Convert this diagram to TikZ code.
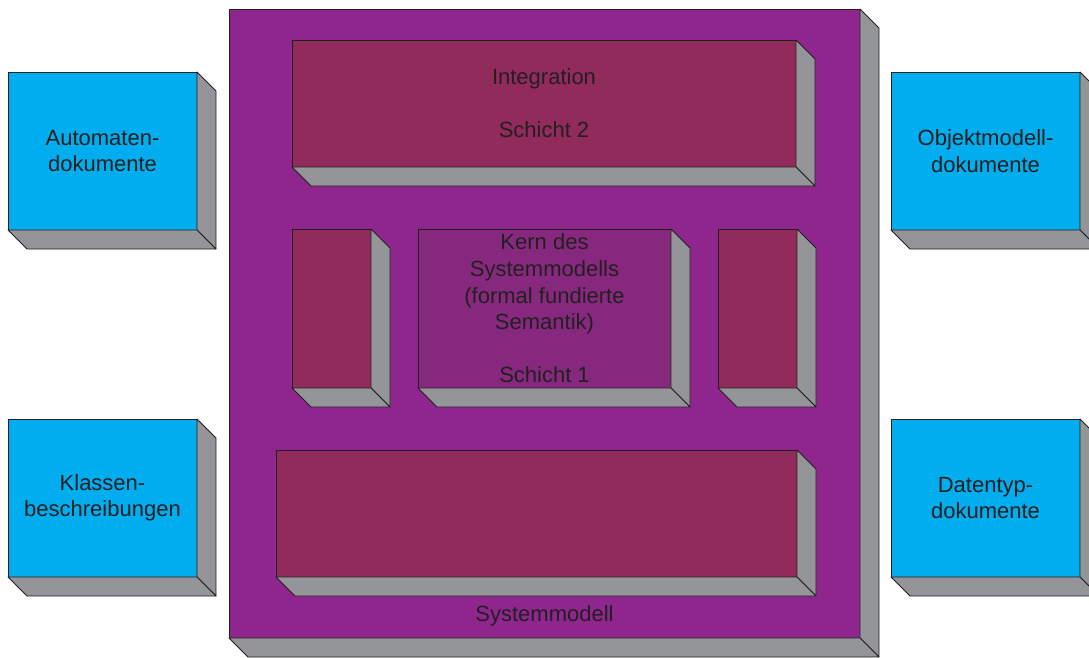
\documentclass[tikz,border=0pt]{standalone}
\usepackage{fontspec}
\setmainfont{Liberation Sans}
\usetikzlibrary{calc}
\definecolor{outercol}{HTML}{8E268E}
\definecolor{innercol}{HTML}{912B5C}
\definecolor{kerncol}{HTML}{86297E}
\definecolor{sidecol}{HTML}{939598}
\definecolor{cyancol}{HTML}{00ADEE}
\definecolor{inkcol}{HTML}{231F20}
\newcommand\depthfaces[2]{%
  \filldraw[sideface] (#1.north east) -- ++(#2,#2) -- ($(#1.south east)+(#2,#2)$) -- (#1.south east) -- cycle;
  \filldraw[sideface] (#1.south west) -- (#1.south east) -- ($(#1.south east)+(#2,#2)$) -- ($(#1.south west)+(#2,#2)$) -- cycle;}
\tikzset{
  sideface/.style={fill=sidecol, draw=inkcol, line width=0.8pt, line join=round},
  face/.style={draw=inkcol, line width=0.8pt, inner sep=0pt, outer sep=0pt, align=center,
    text=inkcol, font=\fontsize{22}{26.6}\selectfont},
  label/.style={text=inkcol, font=\fontsize{22}{26.6}\selectfont, inner sep=0pt}
}
\begin{document}
\begin{tikzpicture}[x=1pt,y=-1pt]
\clip (0,0) rectangle (1089,658);
\useasboundingbox (0,0) rectangle (1089,658);
% outer system model
\node[face, fill=outercol, minimum width=631pt, minimum height=629pt] (sys) at (544.5,323.5) {};
\depthfaces{sys}{19}
\node[label] (syslabel) at (544.5,616) {Systemmodell};
% layer 2
\node[face, fill=innercol, minimum width=504pt, minimum height=127pt] (integ) at (544,103.5) {Integration\\[26.6pt]Schicht 2};
\depthfaces{integ}{19}
% layer 1
\node[face, fill=innercol, minimum width=79pt, minimum height=159pt] (lsmall) at (331.5,308.5) {};
\depthfaces{lsmall}{19}
\node[face, fill=kerncol, minimum width=253pt, minimum height=159pt] (kern) at (544.5,308.5) {Kern des\\Systemmodells\\(formal fundierte\\Semantik)\\[26.6pt]Schicht 1};
\depthfaces{kern}{19}
\node[face, fill=innercol, minimum width=79pt, minimum height=159pt] (rsmall) at (757.5,308.5) {};
\depthfaces{rsmall}{19}
% bottom
\node[face, fill=innercol, minimum width=521pt, minimum height=127pt] (bottom) at (536.5,513.5) {};
\depthfaces{bottom}{19}
% documents
\node[face, fill=cyancol, minimum width=189pt, minimum height=158pt] (auto) at (102.5,151) {Automaten-\\dokumente};
\depthfaces{auto}{19}
\node[face, fill=cyancol, minimum width=189pt, minimum height=158pt] (klass) at (102.5,498) {Klassen-\\beschreibungen};
\depthfaces{klass}{19}
\node[face, fill=cyancol, minimum width=189pt, minimum height=158pt] (objekt) at (985.5,151) {Objektmodell-\\dokumente};
\depthfaces{objekt}{19}
\node[face, fill=cyancol, minimum width=189pt, minimum height=158pt] (daten) at (985.5,498) {Datentyp-\\dokumente};
\depthfaces{daten}{19}
\end{tikzpicture}
\end{document}
